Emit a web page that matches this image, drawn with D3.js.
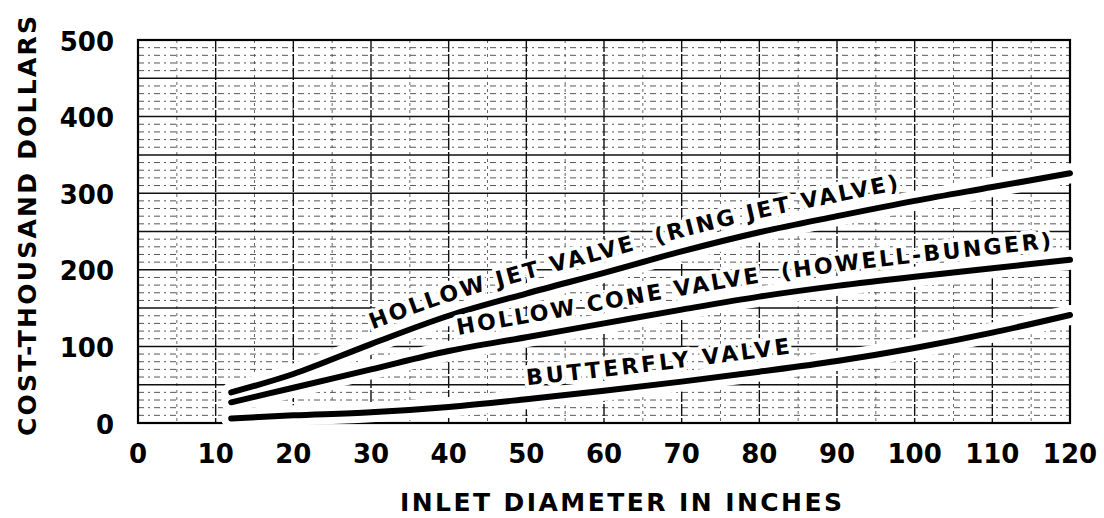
<!DOCTYPE html>
<html>
<head>
<meta charset="utf-8">
<script src="https://cdn.jsdelivr.net/npm/d3@7"></script>
<style>
  html, body { margin: 0; padding: 0; background: #fff; }
  svg { display: block; }
  text { font-family: "DejaVu Sans", sans-serif; font-weight: bold; fill: #000; }
</style>
</head>
<body>
<svg id="chart" width="1104" height="518"></svg>
<script>
// ---- data ----
const xTickValues = [0, 10, 20, 30, 40, 50, 60, 70, 80, 90, 100, 110, 120];
const yTickValues = [0, 100, 200, 300, 400, 500];
const diameters   = [12, 20, 30, 40, 50, 60, 70, 80, 90, 100, 110, 120];
const hollowJet   = [40, 64, 103, 140, 169, 196, 224, 249, 270, 290, 308, 326];
const hollowCone  = [27, 46, 70, 94, 112, 130, 148, 165, 179, 191, 202, 213];
const butterfly   = [6, 10, 14, 21, 31, 42, 54, 67, 81, 98, 118, 141];
const seriesNames = ["HOLLOW JET VALVE  (RING JET VALVE)",
                     "HOLLOW CONE VALVE  (HOWELL-BUNGER)",
                     "BUTTERFLY VALVE"];
const labelStart  = [30.2, 41.2, 50.1];
const labelEnd    = [98.0, 117.6, 84.0];
const xTitle = "INLET DIAMETER IN INCHES";
const yTitle = "COST-THOUSAND DOLLARS";

const series = [hollowJet, hollowCone, butterfly].map(vals => diameters.map((d, i) => [d, vals[i]]));

// ---- layout ----
const svg = d3.select("#chart");
const x = d3.scaleLinear().domain([0, 120]).range([138, 1070]);
const y = d3.scaleLinear().domain([0, 500]).range([423, 40]);

// grid
const g = svg.append("g");
const minorX = d3.range(5, 120, 10);
const minorY = d3.range(0, 501, 10).filter(v => v % 50 !== 0);
const majorX = d3.range(0, 121, 10);
const majorY = d3.range(0, 501, 50);

g.selectAll(".mnx").data(minorX).join("line")
  .attr("x1", d => x(d)).attr("x2", d => x(d)).attr("y1", y(500)).attr("y2", y(0))
  .attr("stroke", "#555").attr("stroke-width", 0.9).attr("stroke-dasharray", "3,4");
g.selectAll(".mny").data(minorY).join("line")
  .attr("y1", d => y(d)).attr("y2", d => y(d)).attr("x1", x(0)).attr("x2", x(120))
  .attr("stroke", "#444").attr("stroke-width", 0.9).attr("stroke-dasharray", "6,4,2,4");
g.selectAll(".mjx").data(majorX).join("line")
  .attr("x1", d => x(d)).attr("x2", d => x(d)).attr("y1", y(500)).attr("y2", y(0))
  .attr("stroke", "#111").attr("stroke-width", 1.4).attr("stroke-dasharray", "12,2");
g.selectAll(".mjy").data(majorY).join("line")
  .attr("y1", d => y(d)).attr("y2", d => y(d)).attr("x1", x(0)).attr("x2", x(120))
  .attr("stroke", "#111").attr("stroke-width", 1.5);
// frame
g.append("rect").attr("x", x(0)).attr("y", y(500))
  .attr("width", x(120) - x(0)).attr("height", y(0) - y(500))
  .attr("fill", "none").attr("stroke", "#000").attr("stroke-width", 2.2);

// curves
const line = d3.line().x(d => x(d[0])).y(d => y(d[1])).curve(d3.curveCatmullRom.alpha(0.5));
const cg = svg.append("g");
cg.selectAll(".halo").data(series).join("path")
  .attr("d", line).attr("fill", "none").attr("stroke", "#fff")
  .attr("stroke-width", 20).attr("stroke-linecap", "round");
cg.selectAll(".curve").data(series).join("path")
  .attr("d", line).attr("fill", "none").attr("stroke", "#000")
  .attr("stroke-width", 6).attr("stroke-linecap", "round");

// labels along offset paths, one text per word
const off = 14;
const fs = 22;
const offLine = d3.line().x(d => x(d[0])).y(d => y(d[1]) - off).curve(d3.curveCatmullRom.alpha(0.5));
const defs = svg.append("defs");
function lengthAtX(path, px) {
  let lo = 0, hi = path.getTotalLength();
  for (let k = 0; k < 40; k++) {
    const mid = (lo + hi) / 2;
    if (path.getPointAtLength(mid).x < px) lo = mid; else hi = mid;
  }
  return lo;
}
const meas = svg.append("text").attr("font-size", fs).style("white-space", "pre").attr("opacity", 0);
function widthOf(s) { meas.text(s); return meas.node().getComputedTextLength(); }

series.forEach((s, i) => {
  const p = defs.append("path").attr("id", "lp" + i).attr("d", offLine(s));
  const node = p.node();
  const a = lengthAtX(node, x(labelStart[i]));
  const b = lengthAtX(node, x(labelEnd[i]));
  const str = seriesNames[i];
  const W = widthOf(str);
  const ls = (b - a - W) / (str.length - 1);
  const re = /\S+/g;
  let m;
  while ((m = re.exec(str)) !== null) {
    const prefix = str.slice(0, m.index);
    const startOff = a + (prefix.length ? widthOf(prefix) : 0) + ls * prefix.length;
    const t = svg.append("text").attr("font-size", fs)
      .attr("letter-spacing", ls)
      .attr("stroke", "#fff").attr("stroke-width", 8).attr("paint-order", "stroke")
      .attr("stroke-linejoin", "round");
    t.append("textPath").attr("href", "#lp" + i)
      .attr("startOffset", startOff).text(m[0]);
  }
});
meas.remove();

// axes tick labels
svg.append("g").selectAll("text").data(xTickValues).join("text")
  .attr("x", d => x(d)).attr("y", 463).attr("text-anchor", "middle")
  .attr("font-size", 26).text(d => d);
svg.append("g").selectAll("text").data(yTickValues).join("text")
  .attr("x", 114).attr("y", d => y(d) + 3).attr("text-anchor", "end")
  .attr("dominant-baseline", "middle").attr("font-size", 26).text(d => d);

// axis titles
svg.append("text").attr("x", 621).attr("y", 511).attr("text-anchor", "middle")
  .attr("font-size", 25).attr("textLength", 442).attr("lengthAdjust", "spacing").text(xTitle);
svg.append("text").attr("transform", "translate(36,226) rotate(-90)")
  .attr("text-anchor", "middle").attr("font-size", 25)
  .attr("textLength", 420).attr("lengthAdjust", "spacing").text(yTitle);
</script>
</body>
</html>
